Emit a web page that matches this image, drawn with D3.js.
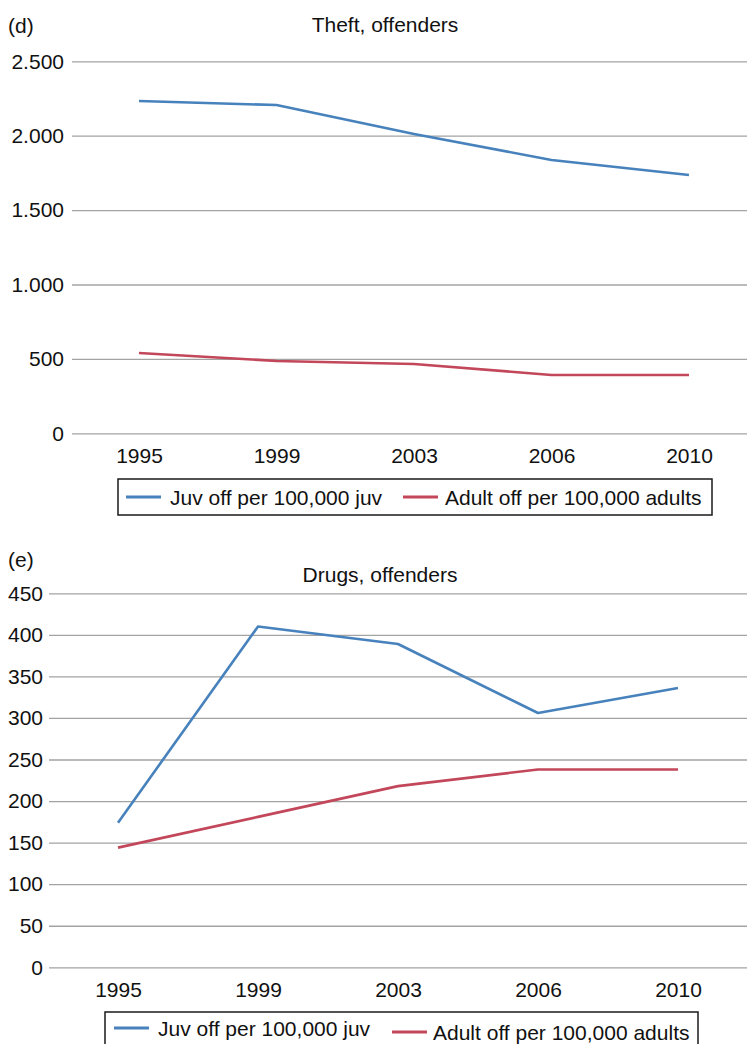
<!DOCTYPE html>
<html>
<head>
<meta charset="utf-8">
<script src="https://cdn.jsdelivr.net/npm/d3@7"></script>
<style>
  html, body { margin: 0; padding: 0; background: #fff; }
  svg { display: block; font-family: "Liberation Sans", Arial, Helvetica, sans-serif; }
</style>
</head>
<body>
<svg id="chart" width="747" height="1044"></svg>
<script>
// ---- data ----
const years = ["1995", "1999", "2003", "2006", "2010"];
const seriesNames = ["Juv off per 100,000 juv", "Adult off per 100,000 adults"];
const theftJuv = [2233, 2206, 2012, 1837, 1736];
const theftAdult = [540, 486, 466, 392, 392];
const drugsJuv = [174, 410, 389, 306, 336];
const drugsAdult = [144, 181, 218, 238, 238];
const theftTicks = [0, 500, 1000, 1500, 2000, 2500];
const drugsTicks = [0, 50, 100, 150, 200, 250, 300, 350, 400, 450];
const panelTitles = ["Theft, offenders", "Drugs, offenders"];
const panelLetters = ["(d)", "(e)"];

const colors = ["#4782bc", "#c3475a"];
const svg = d3.select("#chart");
const FS = 21;

const deLocale = d3.formatLocale({ decimal: ",", thousands: ".", grouping: [3], currency: ["", ""] });
const fmtD = deLocale.format(",d");

function drawPanel(cfg) {
  const g = svg.append("g");
  const y = d3.scaleLinear().domain(cfg.yDomain).range([cfg.yBottom, cfg.yTop]);
  const x = d3.scalePoint().domain(years).range([cfg.x0, cfg.x1]);

  // letter + title
  g.append("text").attr("x", 8).attr("y", cfg.letterY).attr("font-size", FS).attr("fill", "#111").text(cfg.letter);
  g.append("text").attr("x", cfg.titleX).attr("y", cfg.titleY).attr("font-size", FS).attr("fill", "#111")
    .attr("text-anchor", "middle").text(cfg.title);

  // y axis via d3 axis (gridlines)
  const yAxis = d3.axisLeft(y).tickValues(cfg.ticks).tickFormat(cfg.fmt)
    .tickSize(-(747 - cfg.gridX0)).tickPadding(cfg.gridX0 - cfg.labelRight);
  const ya = g.append("g").attr("transform", `translate(${cfg.gridX0},0)`).call(yAxis);
  ya.select(".domain").remove();
  ya.selectAll(".tick line").attr("stroke", "#a3a3a3").attr("stroke-width", 1.3);
  ya.selectAll(".tick text").attr("font-size", FS).attr("fill", "#111")
    .attr("font-family", "'Liberation Sans', Arial, sans-serif");

  // x axis labels
  const xAxis = d3.axisBottom(x).tickSize(0).tickPadding(0);
  const xa = g.append("g").attr("transform", `translate(0,${cfg.xLabelY})`).call(xAxis);
  xa.select(".domain").remove();
  xa.selectAll(".tick text").attr("font-size", FS).attr("fill", "#111").attr("dy", "0")
    .attr("font-family", "'Liberation Sans', Arial, sans-serif");

  // lines
  const line = d3.line().x((d, i) => x(years[i])).y(d => y(d));
  cfg.series.forEach((s, i) => {
    g.append("path").datum(s).attr("d", line).attr("fill", "none")
      .attr("stroke", colors[i]).attr("stroke-width", 2.6).attr("stroke-linejoin", "round");
  });

  // legend
  const L = cfg.legend;
  g.append("rect").attr("x", L.left).attr("y", L.top).attr("width", L.right - L.left).attr("height", L.bottom - L.top)
    .attr("fill", "#fff").attr("stroke", "#1a1a1a").attr("stroke-width", 1.5);
  seriesNames.forEach((name, i) => {
    const e = L.entries[i];
    g.append("line").attr("x1", e.sx).attr("x2", e.sx + 35).attr("y1", e.cy).attr("y2", e.cy)
      .attr("stroke", colors[i]).attr("stroke-width", 3);
    g.append("text").attr("x", e.tx).attr("y", e.cy + 7.5).attr("font-size", FS).attr("fill", "#111").text(name);
  });
}

drawPanel({
  letter: panelLetters[0], letterY: 33, title: panelTitles[0], titleX: 385, titleY: 32,
  yDomain: [0, 2500], yBottom: 433.3, yTop: 61.3, ticks: theftTicks, fmt: fmtD,
  x0: 139, x1: 689, gridX0: 72, labelRight: 64, xLabelY: 463,
  series: [theftJuv, theftAdult],
  legend: { left: 118, right: 712, top: 479, bottom: 515,
    entries: [{ sx: 126, tx: 170, cy: 497 }, { sx: 403, tx: 445, cy: 497 }] }
});

drawPanel({
  letter: panelLetters[1], letterY: 567, title: panelTitles[1], titleX: 380, titleY: 582,
  yDomain: [0, 450], yBottom: 967.3, yTop: 593.3, ticks: drugsTicks, fmt: d3.format("d"),
  x0: 118, x1: 678, gridX0: 49, labelRight: 43, xLabelY: 997,
  series: [drugsJuv, drugsAdult],
  legend: { left: 105, right: 698, top: 1012, bottom: 1060,
    entries: [{ sx: 114, tx: 158, cy: 1028 }, { sx: 392, tx: 433, cy: 1032 }] }
});
</script>
</body>
</html>
